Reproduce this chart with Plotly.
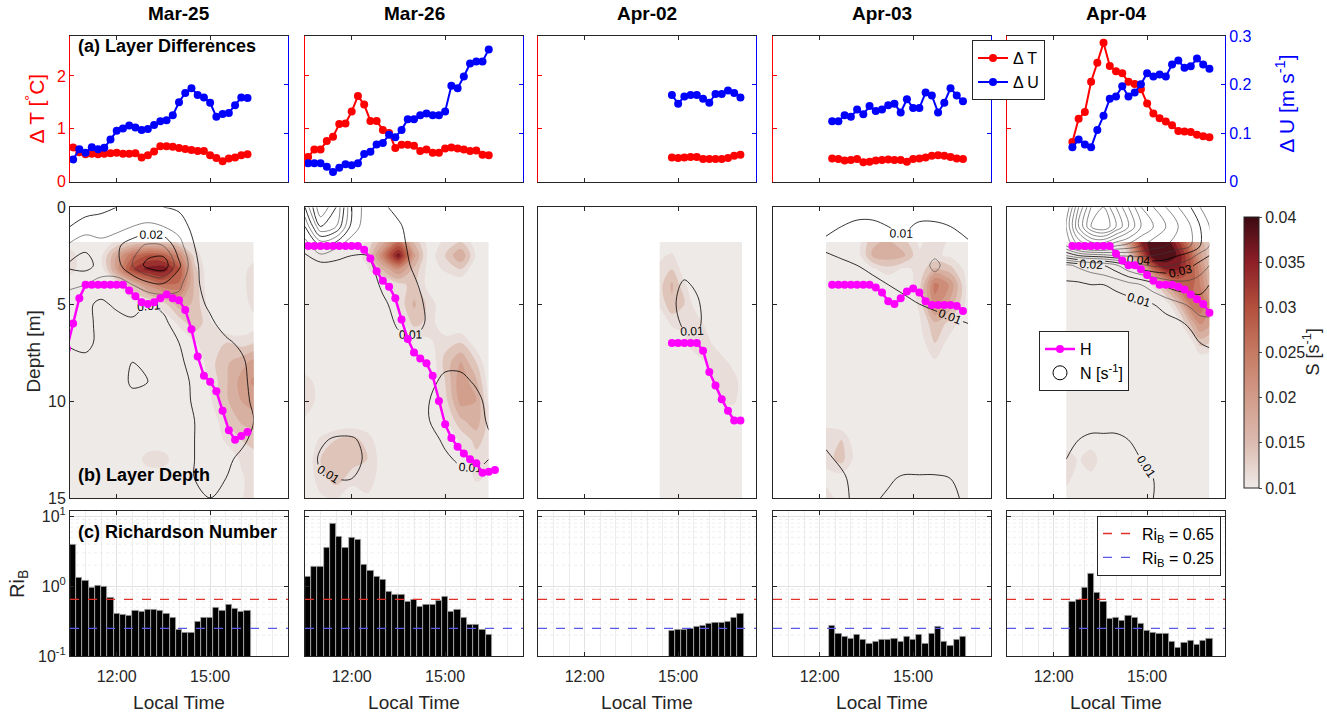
import plotly.graph_objects as go

W, H = 1327, 713
FONT = "Liberation Sans, Arial, Helvetica, sans-serif"
RED = "#ff0000"
BLUE = "#0000ff"
MAG = "#ff00ff"
AX = "#262626"

DAYS = ["Mar-25", "Mar-26", "Apr-02", "Apr-03", "Apr-04"]

# ---------------- sample times (local) ----------------
T1 = ["10:36", "10:48", "11:00", "11:12", "11:24", "11:36", "11:48", "12:00", "12:12", "12:24",
      "12:36", "12:48", "13:00", "13:12", "13:24", "13:36", "13:48", "14:00", "14:12", "14:24",
      "14:36", "14:48", "15:00", "15:12", "15:24", "15:36", "15:48", "16:00", "16:12"]
T2 = ["10:36", "10:48", "11:00", "11:12", "11:24", "11:36", "11:48", "12:00", "12:12", "12:24",
      "12:36", "12:48", "13:00", "13:12", "13:24", "13:36", "13:48", "14:00", "14:12", "14:24",
      "14:36", "14:48", "15:00", "15:12", "15:24", "15:36", "15:48", "16:00", "16:12", "16:24"]
T3 = ["14:48", "15:00", "15:12", "15:24", "15:36", "15:48", "16:00", "16:12", "16:24", "16:36",
      "16:48", "17:00"]
T4 = ["12:24", "12:36", "12:48", "13:00", "13:12", "13:24", "13:36", "13:48", "14:00", "14:12",
      "14:24", "14:36", "14:48", "15:00", "15:12", "15:24", "15:36", "15:48", "16:00", "16:12",
      "16:24", "16:36"]
T5 = ["12:36", "12:48", "13:00", "13:12", "13:24", "13:36", "13:48", "14:00", "14:12", "14:24",
      "14:36", "14:48", "15:00", "15:12", "15:24", "15:36", "15:48", "16:00", "16:12", "16:24",
      "16:36", "16:48", "17:00"]
TH1 = ["10:24"] + T1
TH2 = T2 + ["16:36"]

# ---------------- (a) layer differences ----------------
DT1 = [0.65, 0.56, 0.52, 0.53, 0.52, 0.53, 0.54, 0.55, 0.53, 0.53, 0.54, 0.46, 0.50, 0.57, 0.67,
       0.67, 0.66, 0.64, 0.62, 0.60, 0.58, 0.58, 0.50, 0.45, 0.39, 0.44, 0.46, 0.50, 0.52]
DU1 = [0.046, 0.067, 0.060, 0.071, 0.067, 0.070, 0.087, 0.105, 0.110, 0.116, 0.112, 0.107, 0.109,
       0.117, 0.125, 0.127, 0.137, 0.164, 0.183, 0.193, 0.179, 0.174, 0.163, 0.134, 0.140, 0.142,
       0.158, 0.174, 0.173]
DT2 = [0.47, 0.61, 0.61, 0.77, 0.85, 1.09, 1.10, 1.33, 1.62, 1.46, 1.15, 1.15, 0.98, 0.92, 0.64,
       0.70, 0.70, 0.68, 0.58, 0.61, 0.55, 0.55, 0.63, 0.65, 0.63, 0.61, 0.58, 0.59, 0.51, 0.50]
DU2 = [0.038, 0.038, 0.038, 0.031, 0.020, 0.029, 0.036, 0.034, 0.038, 0.057, 0.062, 0.077, 0.080,
       0.097, 0.092, 0.107, 0.129, 0.129, 0.137, 0.141, 0.137, 0.137, 0.145, 0.198, 0.193, 0.217,
       0.244, 0.248, 0.248, 0.273]
DT3 = [0.46, 0.45, 0.46, 0.47, 0.47, 0.43, 0.43, 0.43, 0.43, 0.45, 0.49, 0.51]
DU3 = [0.179, 0.161, 0.176, 0.179, 0.179, 0.171, 0.163, 0.181, 0.181, 0.188, 0.183, 0.174]
DT4 = [0.44, 0.43, 0.40, 0.41, 0.43, 0.37, 0.38, 0.40, 0.41, 0.42, 0.41, 0.41, 0.38, 0.43, 0.44,
       0.46, 0.49, 0.50, 0.49, 0.47, 0.44, 0.43]
DU4 = [0.125, 0.125, 0.137, 0.134, 0.149, 0.139, 0.156, 0.146, 0.149, 0.158, 0.161, 0.143, 0.170,
       0.152, 0.152, 0.184, 0.178, 0.143, 0.163, 0.193, 0.178, 0.166]
DT5 = [0.75, 1.19, 1.32, 1.89, 2.25, 2.63, 2.19, 2.09, 2.05, 1.89, 1.85, 1.75, 1.48, 1.29, 1.20,
       1.14, 1.07, 0.96, 0.95, 0.94, 0.89, 0.86, 0.84]
DU5 = [0.071, 0.087, 0.077, 0.071, 0.107, 0.136, 0.171, 0.176, 0.197, 0.176, 0.184, 0.201, 0.224,
       0.217, 0.221, 0.217, 0.242, 0.250, 0.235, 0.238, 0.254, 0.242, 0.233]

# ---------------- (b) layer depth H ----------------
H1 = [7.3, 6.0, 4.7, 4.0, 4.0, 4.0, 4.0, 4.0, 4.0, 4.0, 4.3, 4.6, 4.9, 5.0, 4.9, 4.7, 4.5, 4.7,
      4.8, 5.3, 6.3, 7.7, 8.7, 9.0, 9.5, 10.5, 11.5, 12.0, 11.8, 11.6]
H2 = [2.0, 2.0, 2.0, 2.0, 2.0, 2.0, 2.0, 2.0, 2.0, 2.2, 2.65, 3.3, 3.8, 4.1, 4.7, 5.8, 6.8, 7.5,
      7.8, 8.05, 8.7, 10.0, 11.2, 11.9, 12.35, 12.7, 13.0, 13.2, 13.7, 13.65, 13.55]
H3 = [7.0, 7.0, 7.0, 7.0, 7.0, 7.4, 8.5, 9.2, 9.9, 10.5, 11.0, 11.0]
H4 = [4.0, 4.0, 4.0, 4.0, 4.0, 4.0, 4.0, 4.15, 4.4, 4.85, 5.0, 4.7, 4.35, 4.2, 4.4, 4.85, 5.05,
      5.05, 5.05, 5.05, 5.1, 5.35]
H5 = [2.0, 2.0, 2.0, 2.0, 2.0, 2.0, 2.0, 2.4, 2.75, 3.0, 3.0, 3.2, 3.5, 3.8, 4.0, 4.0, 4.0, 4.1,
      4.25, 4.5, 4.75, 5.0, 5.45]

# shear S [s^-1] grids (rows = depth SD, columns = hours ST)
SD = [1.8, 2.5, 3.2, 4.0, 5.0, 6.0, 7.0, 8.0, 9.0, 10.0, 11.0, 12.0, 13.0, 14.0, 15.0]
ST1 = [10.5, 11.0, 11.5, 12.0, 12.5, 13.0, 13.5, 14.0, 14.5, 15.0, 15.5, 16.0, 16.4]
S1 = [
    [0.011, 0.010, 0.011, 0.013, 0.015, 0.016, 0.016, 0.014, 0.012, 0.010, 0.010, 0.010, 0.010],
    [0.014, 0.010, 0.012, 0.020, 0.027, 0.030, 0.029, 0.024, 0.014, 0.010, 0.010, 0.010, 0.011],
    [0.014, 0.010, 0.011, 0.021, 0.032, 0.036, 0.037, 0.030, 0.016, 0.010, 0.010, 0.011, 0.014],
    [0.010, 0.010, 0.010, 0.012, 0.017, 0.023, 0.027, 0.027, 0.017, 0.010, 0.010, 0.011, 0.015],
    [0.010, 0.010, 0.010, 0.010, 0.011, 0.012, 0.014, 0.019, 0.017, 0.011, 0.010, 0.010, 0.014],
    [0.010, 0.010, 0.010, 0.010, 0.010, 0.010, 0.010, 0.013, 0.017, 0.013, 0.010, 0.010, 0.011],
    [0.010, 0.010, 0.010, 0.010, 0.010, 0.010, 0.010, 0.010, 0.012, 0.015, 0.015, 0.014, 0.015],
    [0.010, 0.010, 0.010, 0.010, 0.010, 0.010, 0.010, 0.010, 0.010, 0.014, 0.017, 0.019, 0.021],
    [0.010, 0.010, 0.010, 0.010, 0.010, 0.010, 0.010, 0.010, 0.010, 0.013, 0.017, 0.021, 0.023],
    [0.010, 0.010, 0.010, 0.010, 0.010, 0.010, 0.010, 0.010, 0.010, 0.012, 0.017, 0.020, 0.021],
    [0.010, 0.010, 0.010, 0.010, 0.010, 0.010, 0.010, 0.010, 0.010, 0.010, 0.015, 0.018, 0.019],
    [0.010, 0.010, 0.010, 0.010, 0.010, 0.010, 0.010, 0.010, 0.010, 0.010, 0.013, 0.015, 0.016],
    [0.010, 0.010, 0.010, 0.010, 0.010, 0.014, 0.014, 0.010, 0.010, 0.010, 0.010, 0.013, 0.014],
    [0.010, 0.010, 0.010, 0.010, 0.010, 0.010, 0.010, 0.010, 0.010, 0.010, 0.010, 0.012, 0.014],
    [0.010, 0.010, 0.010, 0.010, 0.010, 0.010, 0.010, 0.010, 0.010, 0.010, 0.010, 0.012, 0.015],
]
ST2 = [10.5, 11.0, 11.5, 12.0, 12.5, 13.0, 13.5, 14.0, 14.5, 15.0, 15.5, 16.0, 16.4]
S2 = [
    [0.010, 0.010, 0.010, 0.010, 0.013, 0.019, 0.027, 0.017, 0.011, 0.013, 0.015, 0.011, 0.010],
    [0.010, 0.010, 0.010, 0.010, 0.014, 0.025, 0.037, 0.021, 0.011, 0.015, 0.020, 0.012, 0.010],
    [0.010, 0.010, 0.010, 0.010, 0.012, 0.018, 0.023, 0.017, 0.011, 0.013, 0.015, 0.010, 0.010],
    [0.010, 0.010, 0.010, 0.010, 0.010, 0.011, 0.014, 0.016, 0.011, 0.010, 0.010, 0.010, 0.010],
    [0.010, 0.010, 0.010, 0.010, 0.010, 0.010, 0.013, 0.018, 0.014, 0.010, 0.010, 0.010, 0.010],
    [0.010, 0.010, 0.010, 0.010, 0.010, 0.010, 0.010, 0.016, 0.014, 0.010, 0.010, 0.010, 0.010],
    [0.010, 0.010, 0.010, 0.010, 0.010, 0.010, 0.010, 0.010, 0.012, 0.014, 0.015, 0.011, 0.010],
    [0.010, 0.010, 0.010, 0.010, 0.010, 0.010, 0.010, 0.010, 0.010, 0.016, 0.020, 0.015, 0.010],
    [0.014, 0.011, 0.010, 0.010, 0.010, 0.010, 0.010, 0.010, 0.010, 0.015, 0.022, 0.018, 0.011],
    [0.015, 0.011, 0.010, 0.010, 0.010, 0.010, 0.010, 0.010, 0.010, 0.014, 0.021, 0.020, 0.012],
    [0.012, 0.010, 0.010, 0.010, 0.010, 0.010, 0.010, 0.010, 0.010, 0.012, 0.017, 0.019, 0.014],
    [0.010, 0.013, 0.015, 0.016, 0.014, 0.010, 0.010, 0.010, 0.010, 0.010, 0.013, 0.016, 0.014],
    [0.010, 0.015, 0.017, 0.016, 0.015, 0.011, 0.010, 0.010, 0.010, 0.010, 0.011, 0.014, 0.013],
    [0.010, 0.014, 0.016, 0.014, 0.014, 0.011, 0.010, 0.010, 0.010, 0.010, 0.010, 0.013, 0.012],
    [0.010, 0.012, 0.013, 0.010, 0.012, 0.010, 0.010, 0.010, 0.010, 0.010, 0.010, 0.010, 0.010],
]
ST3 = [14.4, 14.8, 15.2, 15.6, 16.0, 16.4, 16.8, 17.05]
S3 = [
    [0.010, 0.010, 0.010, 0.010, 0.010, 0.010, 0.010, 0.010],
    [0.012, 0.013, 0.010, 0.010, 0.010, 0.010, 0.010, 0.010],
    [0.013, 0.015, 0.011, 0.010, 0.010, 0.010, 0.010, 0.010],
    [0.014, 0.018, 0.013, 0.010, 0.010, 0.010, 0.010, 0.010],
    [0.013, 0.017, 0.015, 0.011, 0.010, 0.010, 0.010, 0.010],
    [0.010, 0.013, 0.013, 0.014, 0.011, 0.010, 0.010, 0.010],
    [0.010, 0.010, 0.012, 0.015, 0.013, 0.010, 0.010, 0.010],
    [0.010, 0.010, 0.010, 0.011, 0.013, 0.014, 0.011, 0.010],
    [0.010, 0.010, 0.010, 0.010, 0.011, 0.015, 0.014, 0.011],
    [0.010, 0.010, 0.010, 0.010, 0.010, 0.013, 0.013, 0.011],
    [0.010, 0.010, 0.010, 0.010, 0.010, 0.010, 0.010, 0.010],
    [0.010, 0.010, 0.010, 0.010, 0.010, 0.010, 0.010, 0.010],
    [0.010, 0.010, 0.010, 0.010, 0.010, 0.010, 0.010, 0.010],
    [0.010, 0.010, 0.010, 0.010, 0.010, 0.010, 0.010, 0.010],
    [0.010, 0.010, 0.010, 0.010, 0.010, 0.010, 0.010, 0.010],
]
ST4 = [12.2, 12.7, 13.2, 13.7, 14.2, 14.7, 15.2, 15.7, 16.2, 16.77]
S4 = [
    [0.010, 0.010, 0.011, 0.017, 0.018, 0.016, 0.012, 0.014, 0.012, 0.010],
    [0.010, 0.010, 0.011, 0.018, 0.019, 0.018, 0.013, 0.013, 0.012, 0.010],
    [0.010, 0.010, 0.010, 0.012, 0.014, 0.012, 0.013, 0.018, 0.016, 0.011],
    [0.010, 0.010, 0.010, 0.010, 0.010, 0.010, 0.014, 0.026, 0.022, 0.011],
    [0.010, 0.010, 0.010, 0.010, 0.010, 0.010, 0.013, 0.024, 0.019, 0.011],
    [0.010, 0.010, 0.010, 0.010, 0.010, 0.010, 0.012, 0.017, 0.014, 0.010],
    [0.010, 0.010, 0.010, 0.010, 0.010, 0.010, 0.011, 0.015, 0.011, 0.010],
    [0.010, 0.010, 0.010, 0.010, 0.010, 0.010, 0.010, 0.012, 0.010, 0.010],
    [0.010, 0.010, 0.010, 0.010, 0.010, 0.010, 0.010, 0.010, 0.010, 0.010],
    [0.010, 0.010, 0.010, 0.010, 0.010, 0.010, 0.010, 0.010, 0.010, 0.010],
    [0.011, 0.010, 0.010, 0.010, 0.010, 0.010, 0.010, 0.010, 0.010, 0.010],
    [0.015, 0.015, 0.010, 0.010, 0.010, 0.010, 0.010, 0.010, 0.010, 0.010],
    [0.014, 0.016, 0.011, 0.010, 0.010, 0.010, 0.010, 0.010, 0.010, 0.010],
    [0.011, 0.011, 0.010, 0.010, 0.010, 0.010, 0.010, 0.010, 0.010, 0.010],
    [0.015, 0.010, 0.010, 0.010, 0.010, 0.010, 0.010, 0.010, 0.010, 0.010],
]
ST5 = [12.4, 12.8, 13.2, 13.6, 14.0, 14.4, 14.8, 15.2, 15.6, 16.0, 16.4, 16.7, 17.0]
S5 = [
    [0.010, 0.010, 0.010, 0.010, 0.012, 0.021, 0.035, 0.040, 0.040, 0.033, 0.024, 0.019, 0.015],
    [0.010, 0.010, 0.010, 0.010, 0.010, 0.014, 0.029, 0.040, 0.040, 0.037, 0.029, 0.021, 0.016],
    [0.010, 0.010, 0.010, 0.010, 0.010, 0.010, 0.015, 0.028, 0.035, 0.035, 0.030, 0.024, 0.017],
    [0.010, 0.010, 0.010, 0.010, 0.010, 0.010, 0.010, 0.013, 0.020, 0.027, 0.029, 0.025, 0.019],
    [0.010, 0.010, 0.010, 0.010, 0.010, 0.010, 0.010, 0.010, 0.011, 0.017, 0.026, 0.027, 0.023],
    [0.010, 0.010, 0.010, 0.010, 0.010, 0.010, 0.010, 0.010, 0.010, 0.011, 0.018, 0.023, 0.021],
    [0.010, 0.010, 0.010, 0.010, 0.010, 0.010, 0.010, 0.010, 0.010, 0.010, 0.011, 0.016, 0.015],
    [0.010, 0.010, 0.010, 0.010, 0.010, 0.010, 0.010, 0.010, 0.010, 0.010, 0.010, 0.010, 0.010],
    [0.010, 0.010, 0.010, 0.010, 0.010, 0.010, 0.010, 0.010, 0.010, 0.010, 0.010, 0.010, 0.010],
    [0.010, 0.010, 0.010, 0.010, 0.010, 0.010, 0.010, 0.010, 0.010, 0.010, 0.010, 0.010, 0.010],
    [0.010, 0.010, 0.010, 0.010, 0.010, 0.010, 0.010, 0.010, 0.010, 0.010, 0.010, 0.010, 0.010],
    [0.010, 0.010, 0.010, 0.010, 0.010, 0.010, 0.010, 0.010, 0.010, 0.010, 0.010, 0.010, 0.010],
    [0.015, 0.012, 0.015, 0.010, 0.010, 0.010, 0.010, 0.010, 0.010, 0.010, 0.010, 0.010, 0.010],
    [0.014, 0.010, 0.011, 0.010, 0.010, 0.010, 0.010, 0.010, 0.010, 0.010, 0.010, 0.010, 0.010],
    [0.010, 0.010, 0.010, 0.010, 0.010, 0.010, 0.010, 0.010, 0.010, 0.010, 0.010, 0.010, 0.010],
]

# buoyancy frequency N [s^-1] grids (rows = depth ND, columns = hours)
ND = [0, 1, 2, 3, 4, 5, 6, 7, 8, 9, 10, 11, 12, 13, 14, 15]
N1 = [
    [0.006, 0.008, 0.009, 0.010, 0.011, 0.011, 0.010, 0.009, 0.006, 0.005, 0.005, 0.005, 0.005],
    [0.010, 0.012, 0.012, 0.013, 0.015, 0.016, 0.015, 0.013, 0.008, 0.005, 0.005, 0.005, 0.005],
    [0.016, 0.019, 0.017, 0.019, 0.023, 0.026, 0.025, 0.017, 0.010, 0.006, 0.005, 0.005, 0.005],
    [0.021, 0.022, 0.018, 0.018, 0.025, 0.032, 0.034, 0.021, 0.011, 0.007, 0.005, 0.005, 0.005],
    [0.016, 0.015, 0.013, 0.013, 0.015, 0.018, 0.019, 0.016, 0.011, 0.008, 0.006, 0.005, 0.005],
    [0.012, 0.011, 0.009, 0.011, 0.012, 0.010, 0.011, 0.013, 0.012, 0.009, 0.007, 0.006, 0.005],
    [0.013, 0.011, 0.009, 0.008, 0.009, 0.008, 0.009, 0.012, 0.013, 0.011, 0.008, 0.007, 0.006],
    [0.011, 0.012, 0.008, 0.007, 0.008, 0.008, 0.008, 0.010, 0.013, 0.012, 0.011, 0.009, 0.007],
    [0.007, 0.008, 0.007, 0.007, 0.010, 0.010, 0.007, 0.009, 0.012, 0.013, 0.012, 0.011, 0.008],
    [0.006, 0.006, 0.006, 0.007, 0.011, 0.010, 0.007, 0.008, 0.011, 0.013, 0.013, 0.012, 0.008],
    [0.005, 0.005, 0.006, 0.006, 0.008, 0.008, 0.006, 0.007, 0.011, 0.012, 0.013, 0.012, 0.009],
    [0.005, 0.005, 0.005, 0.006, 0.006, 0.006, 0.006, 0.007, 0.010, 0.012, 0.012, 0.012, 0.010],
    [0.005, 0.005, 0.005, 0.005, 0.006, 0.006, 0.006, 0.007, 0.010, 0.011, 0.012, 0.011, 0.009],
    [0.005, 0.005, 0.005, 0.005, 0.005, 0.006, 0.006, 0.007, 0.010, 0.011, 0.011, 0.009, 0.008],
    [0.005, 0.005, 0.005, 0.005, 0.005, 0.005, 0.006, 0.008, 0.010, 0.011, 0.010, 0.008, 0.007],
    [0.005, 0.005, 0.005, 0.005, 0.005, 0.005, 0.006, 0.008, 0.010, 0.010, 0.009, 0.007, 0.006],
]
N2 = [
    [0.030, 0.050, 0.040, 0.020, 0.012, 0.011, 0.008, 0.006, 0.005, 0.005, 0.005, 0.005, 0.005],
    [0.020, 0.040, 0.035, 0.018, 0.012, 0.012, 0.011, 0.007, 0.005, 0.005, 0.005, 0.005, 0.005],
    [0.012, 0.020, 0.016, 0.012, 0.011, 0.013, 0.012, 0.008, 0.005, 0.005, 0.005, 0.005, 0.005],
    [0.007, 0.008, 0.008, 0.008, 0.009, 0.012, 0.013, 0.009, 0.006, 0.005, 0.005, 0.005, 0.005],
    [0.005, 0.005, 0.006, 0.006, 0.007, 0.011, 0.013, 0.011, 0.007, 0.005, 0.005, 0.005, 0.005],
    [0.005, 0.005, 0.005, 0.005, 0.006, 0.009, 0.012, 0.013, 0.008, 0.005, 0.005, 0.005, 0.005],
    [0.005, 0.005, 0.005, 0.005, 0.005, 0.007, 0.011, 0.012, 0.009, 0.006, 0.005, 0.005, 0.005],
    [0.005, 0.005, 0.005, 0.005, 0.005, 0.005, 0.008, 0.009, 0.008, 0.007, 0.006, 0.005, 0.005],
    [0.005, 0.005, 0.005, 0.005, 0.005, 0.005, 0.006, 0.007, 0.008, 0.009, 0.008, 0.006, 0.005],
    [0.005, 0.005, 0.005, 0.005, 0.005, 0.005, 0.005, 0.006, 0.009, 0.011, 0.012, 0.009, 0.006],
    [0.005, 0.005, 0.005, 0.005, 0.005, 0.005, 0.005, 0.005, 0.010, 0.012, 0.013, 0.012, 0.008],
    [0.005, 0.005, 0.005, 0.005, 0.005, 0.005, 0.005, 0.005, 0.010, 0.012, 0.013, 0.013, 0.009],
    [0.006, 0.009, 0.011, 0.011, 0.008, 0.005, 0.005, 0.005, 0.008, 0.011, 0.012, 0.012, 0.011],
    [0.006, 0.011, 0.012, 0.012, 0.009, 0.005, 0.005, 0.005, 0.006, 0.009, 0.011, 0.011, 0.010],
    [0.005, 0.009, 0.010, 0.010, 0.008, 0.005, 0.005, 0.005, 0.005, 0.006, 0.008, 0.009, 0.008],
    [0.005, 0.006, 0.006, 0.006, 0.006, 0.005, 0.005, 0.005, 0.005, 0.005, 0.005, 0.006, 0.006],
]
N3 = [
    [0.005, 0.005, 0.005, 0.005, 0.005, 0.005, 0.005, 0.005],
    [0.005, 0.005, 0.005, 0.005, 0.005, 0.005, 0.005, 0.005],
    [0.005, 0.005, 0.005, 0.005, 0.005, 0.005, 0.005, 0.005],
    [0.005, 0.006, 0.007, 0.006, 0.005, 0.005, 0.005, 0.005],
    [0.006, 0.008, 0.011, 0.009, 0.006, 0.005, 0.005, 0.005],
    [0.006, 0.009, 0.012, 0.011, 0.007, 0.005, 0.005, 0.005],
    [0.005, 0.008, 0.011, 0.011, 0.008, 0.005, 0.005, 0.005],
    [0.005, 0.006, 0.008, 0.009, 0.007, 0.005, 0.005, 0.005],
    [0.005, 0.005, 0.005, 0.005, 0.005, 0.005, 0.005, 0.005],
    [0.005, 0.005, 0.005, 0.005, 0.005, 0.005, 0.005, 0.005],
    [0.005, 0.005, 0.005, 0.005, 0.005, 0.005, 0.005, 0.005],
    [0.005, 0.005, 0.005, 0.005, 0.005, 0.005, 0.005, 0.005],
    [0.005, 0.005, 0.005, 0.005, 0.005, 0.005, 0.005, 0.005],
    [0.005, 0.005, 0.005, 0.005, 0.005, 0.005, 0.005, 0.005],
    [0.005, 0.005, 0.005, 0.005, 0.005, 0.005, 0.005, 0.005],
    [0.005, 0.005, 0.005, 0.005, 0.005, 0.005, 0.005, 0.005],
]
N4 = [
    [0.006, 0.007, 0.008, 0.008, 0.007, 0.007, 0.007, 0.007, 0.006, 0.006],
    [0.009, 0.010, 0.011, 0.011, 0.010, 0.009, 0.011, 0.011, 0.010, 0.008],
    [0.011, 0.012, 0.012, 0.012, 0.011, 0.011, 0.012, 0.013, 0.012, 0.011],
    [0.008, 0.009, 0.010, 0.011, 0.011, 0.012, 0.013, 0.016, 0.013, 0.012],
    [0.006, 0.007, 0.008, 0.009, 0.010, 0.011, 0.012, 0.013, 0.013, 0.012],
    [0.005, 0.006, 0.006, 0.007, 0.008, 0.009, 0.010, 0.011, 0.012, 0.011],
    [0.005, 0.005, 0.005, 0.005, 0.006, 0.006, 0.007, 0.008, 0.009, 0.010],
    [0.005, 0.005, 0.005, 0.005, 0.005, 0.005, 0.005, 0.006, 0.007, 0.008],
    [0.005, 0.005, 0.005, 0.005, 0.005, 0.005, 0.005, 0.005, 0.005, 0.006],
    [0.005, 0.005, 0.005, 0.005, 0.005, 0.005, 0.005, 0.005, 0.005, 0.005],
    [0.005, 0.005, 0.005, 0.005, 0.005, 0.005, 0.005, 0.005, 0.005, 0.005],
    [0.005, 0.005, 0.005, 0.005, 0.005, 0.005, 0.005, 0.005, 0.005, 0.005],
    [0.009, 0.007, 0.006, 0.005, 0.005, 0.005, 0.005, 0.005, 0.005, 0.005],
    [0.011, 0.009, 0.007, 0.006, 0.006, 0.006, 0.006, 0.006, 0.006, 0.005],
    [0.012, 0.011, 0.008, 0.008, 0.009, 0.011, 0.011, 0.011, 0.010, 0.008],
    [0.012, 0.011, 0.009, 0.009, 0.011, 0.012, 0.012, 0.012, 0.011, 0.009],
]
ND5 = [0, 1, 2, 2.5, 3, 4, 5, 6, 7, 8, 9, 10, 11, 12, 13, 14, 15]
N5 = [
    [0.050, 0.070, 0.085, 0.090, 0.080, 0.070, 0.060, 0.055, 0.050, 0.045, 0.040, 0.035, 0.030],
    [0.055, 0.075, 0.090, 0.095, 0.085, 0.075, 0.065, 0.060, 0.055, 0.050, 0.045, 0.040, 0.035],
    [0.050, 0.060, 0.065, 0.065, 0.060, 0.058, 0.055, 0.052, 0.050, 0.048, 0.045, 0.040, 0.035],
    [0.035, 0.040, 0.042, 0.043, 0.045, 0.046, 0.046, 0.045, 0.043, 0.040, 0.037, 0.033, 0.030],
    [0.014, 0.016, 0.018, 0.020, 0.024, 0.030, 0.034, 0.036, 0.036, 0.034, 0.031, 0.028, 0.025],
    [0.009, 0.009, 0.010, 0.010, 0.011, 0.013, 0.015, 0.018, 0.021, 0.023, 0.023, 0.022, 0.020],
    [0.007, 0.007, 0.007, 0.007, 0.008, 0.008, 0.009, 0.010, 0.012, 0.014, 0.016, 0.018, 0.017],
    [0.006, 0.006, 0.006, 0.006, 0.006, 0.006, 0.007, 0.007, 0.008, 0.009, 0.011, 0.013, 0.014],
    [0.005, 0.005, 0.005, 0.005, 0.005, 0.005, 0.005, 0.006, 0.006, 0.007, 0.008, 0.010, 0.011],
    [0.005, 0.005, 0.005, 0.005, 0.005, 0.005, 0.005, 0.005, 0.005, 0.005, 0.006, 0.006, 0.007],
    [0.005, 0.005, 0.005, 0.005, 0.005, 0.005, 0.005, 0.005, 0.005, 0.005, 0.005, 0.005, 0.005],
    [0.005, 0.005, 0.005, 0.005, 0.005, 0.005, 0.005, 0.005, 0.005, 0.005, 0.005, 0.005, 0.005],
    [0.006, 0.007, 0.008, 0.008, 0.008, 0.007, 0.006, 0.005, 0.005, 0.005, 0.005, 0.005, 0.005],
    [0.008, 0.010, 0.011, 0.011, 0.011, 0.010, 0.008, 0.006, 0.005, 0.005, 0.005, 0.005, 0.005],
    [0.010, 0.012, 0.012, 0.013, 0.012, 0.011, 0.010, 0.008, 0.006, 0.005, 0.005, 0.005, 0.005],
    [0.012, 0.011, 0.012, 0.013, 0.013, 0.012, 0.011, 0.010, 0.008, 0.006, 0.005, 0.005, 0.005],
    [0.011, 0.010, 0.011, 0.013, 0.013, 0.012, 0.011, 0.010, 0.009, 0.007, 0.005, 0.005, 0.005],
]

# ---------------- (c) bulk Richardson number ----------------
RI1 = [3.87, 1.32, 1.20, 0.94, 1.02, 1.00, 0.68, 0.41, 0.39, 0.38, 0.44, 0.43, 0.46, 0.46, 0.44,
       0.41, 0.35, 0.24, 0.22, 0.22, 0.31, 0.36, 0.36, 0.50, 0.45, 0.54, 0.48, 0.43, 0.44]
RI2 = [1.39, 1.88, 1.88, 3.55, 7.9, 5.1, 3.55, 5.0, 4.6, 2.04, 1.68, 1.36, 1.22, 0.84, 0.76,
       0.76, 0.60, 0.65, 0.51, 0.54, 0.54, 0.63, 0.70, 0.43, 0.46, 0.36, 0.28, 0.28, 0.24, 0.20]
RI3 = [0.23, 0.24, 0.24, 0.25, 0.26, 0.27, 0.29, 0.30, 0.30, 0.31, 0.35, 0.40]
RI4 = [0.27, 0.21, 0.19, 0.18, 0.20, 0.17, 0.15, 0.16, 0.17, 0.17, 0.18, 0.16, 0.19, 0.17, 0.20,
       0.15, 0.21, 0.26, 0.16, 0.14, 0.17, 0.19]
RI5 = [0.60, 0.65, 0.94, 1.50, 0.82, 0.60, 0.34, 0.35, 0.32, 0.38, 0.35, 0.29, 0.23, 0.22, 0.21,
       0.21, 0.16, 0.13, 0.155, 0.165, 0.144, 0.165, 0.18]
RI_CRIT = [0.65, 0.25]
RI_CRIT_COLORS = ["#e0322a", "#5a5ae6"]

XRANGE = [10.5, 17.5]
XTICKS = [12, 15]
XTICKTEXT = ["12:00", "15:00"]
CB_TICKS = [0.01, 0.015, 0.02, 0.025, 0.03, 0.035, 0.04]
CB_TEXT = ["0.01", "0.015", "0.02", "0.025", "0.03", "0.035", "0.04"]

AMP = [[0.0, "#eeeae8"], [0.167, "#dcbbb0"], [0.333, "#d29c8a"], [0.5, "#c67a63"],
       [0.667, "#b2503d"], [0.833, "#8e1f27"], [1.0, "#3c0a12"]]


def hrs(lst):
    return [int(s[:2]) + int(s[3:]) / 60.0 for s in lst]


DAYDATA = [
    dict(t=T1, dt=DT1, du=DU1, th=TH1, h=H1, st=ST1, s=S1, nd=ND, n=N1, ri=RI1),
    dict(t=T2, dt=DT2, du=DU2, th=TH2, h=H2, st=ST2, s=S2, nd=ND, n=N2, ri=RI2),
    dict(t=T3, dt=DT3, du=DU3, th=T3, h=H3, st=ST3, s=S3, nd=ND, n=N3, ri=RI3),
    dict(t=T4, dt=DT4, du=DU4, th=T4, h=H4, st=ST4, s=S4, nd=ND, n=N4, ri=RI4),
    dict(t=T5, dt=DT5, du=DU5, th=T5, h=H5, st=ST5, s=S5, nd=ND5, n=N5, ri=RI5),
]

COL_L = [70, 305, 538, 773, 1007]
COL_W = 218
ROW_TOP = (29, 178)
ROW_MID = (204, 502)
ROW_BOT = (515, 664)
TICK_SIZE = 16


def px(p):
    return p / W


def py(p):
    return 1 - p / H


def an(kind, n):
    return kind + ("" if n == 1 else str(n))


def ax(kind, n):
    return kind + "axis" + ("" if n == 1 else str(n))


fig = go.Figure()
layout = {}
shapes = []
annotations = []

base_ax = dict(showline=True, linecolor=AX, linewidth=1, ticks="inside", ticklen=4,
               tickcolor=AX, zeroline=False, showgrid=False,
               tickfont=dict(family=FONT, size=TICK_SIZE, color=AX))

for i, d in enumerate(DAYDATA):
    xd = [px(COL_L[i]), px(COL_L[i] + COL_W)]
    t = hrs(d["t"])
    xt, yl, yr = i + 1, i + 1, i + 6
    xm, ym = i + 6, i + 11
    xb, yb = i + 11, i + 16

    # ---- top row axes
    layout[ax("x", xt)] = dict(base_ax, domain=xd, anchor=an("y", yl), range=XRANGE,
                               tickvals=XTICKS, showticklabels=False, mirror="ticks")
    layout[ax("y", yl)] = dict(base_ax, domain=[py(ROW_TOP[1]), py(ROW_TOP[0])],
                               anchor=an("x", xt), range=[0, 2.75], tickvals=[0, 1, 2],
                               linecolor=RED, tickcolor=RED, showticklabels=(i == 0),
                               tickfont=dict(family=FONT, size=TICK_SIZE, color=RED))
    layout[ax("y", yr)] = dict(base_ax, overlaying=an("y", yl), side="right",
                               anchor=an("x", xt), range=[0, 0.3],
                               tickvals=[0, 0.1, 0.2, 0.3], linecolor=BLUE, tickcolor=BLUE,
                               showticklabels=(i == 4),
                               tickfont=dict(family=FONT, size=TICK_SIZE, color=BLUE))
    fig.add_trace(go.Scatter(x=t, y=d["dt"], mode="lines+markers", name="Δ T",
                             line=dict(color=RED, width=2), marker=dict(size=8, color=RED),
                             xaxis=an("x", xt), yaxis=an("y", yl), legend="legend",
                             showlegend=(i == 4), hoverinfo="skip"))
    fig.add_trace(go.Scatter(x=t, y=d["du"], mode="lines+markers", name="Δ U",
                             line=dict(color=BLUE, width=2), marker=dict(size=8, color=BLUE),
                             xaxis=an("x", xt), yaxis=an("y", yr), legend="legend",
                             showlegend=(i == 4), hoverinfo="skip"))

    # ---- middle row
    layout[ax("x", xm)] = dict(base_ax, domain=xd, anchor=an("y", ym), range=XRANGE,
                               tickvals=XTICKS, showticklabels=False, mirror="ticks")
    layout[ax("y", ym)] = dict(base_ax, domain=[py(ROW_MID[1]), py(ROW_MID[0])],
                               anchor=an("x", xm), range=[15, 0], tickvals=[0, 5, 10, 15],
                               showticklabels=(i == 0), mirror="ticks")
    fig.add_trace(go.Contour(x=d["st"], y=SD, z=d["s"], colorscale=AMP, zmin=0.01, zmax=0.04,
                             zauto=False, autocontour=False,
                             contours=dict(start=0.0125, end=0.04, size=0.0025,
                                           coloring="fill", showlines=False),
                             line=dict(width=0, smoothing=1.0), showscale=False,
                             xaxis=an("x", xm), yaxis=an("y", ym), hoverinfo="skip"))
    nt = d["st"]
    for (st, en, sz, lab, wd, colr) in [(0.01, 0.04, 0.01, True, 0.8, "#000000"),
                                        (0.015, 0.145, 0.01, False, 0.6, "#3a3a3a"),
                                        (0.05, 0.14, 0.01, False, 0.6, "#3a3a3a")]:
        fig.add_trace(go.Contour(x=nt, y=d["nd"], z=d["n"], autocontour=False,
                                 contours=dict(start=st, end=en, size=sz, coloring="lines",
                                               showlabels=lab, labelformat=".2f",
                                               labelfont=dict(family=FONT, size=12,
                                                              color="black")),
                                 colorscale=[[0, colr], [1, colr]],
                                 line=dict(width=wd, smoothing=1.0), showscale=False,
                                 xaxis=an("x", xm), yaxis=an("y", ym), hoverinfo="skip"))
    fig.add_trace(go.Scatter(x=hrs(d["th"]), y=d["h"], mode="lines+markers", name="H",
                             line=dict(color=MAG, width=2.5), marker=dict(size=8, color=MAG),
                             xaxis=an("x", xm), yaxis=an("y", ym), legend="legend2",
                             showlegend=(i == 4), cliponaxis=True, hoverinfo="skip"))

    # ---- bottom row
    layout[ax("x", xb)] = dict(base_ax, domain=xd, anchor=an("y", yb), range=XRANGE,
                               tickvals=XTICKS, ticktext=XTICKTEXT, mirror="ticks",
                               showgrid=True, gridcolor="#e2e2e2", gridwidth=1,
                               ticklabelstandoff=6,
                               minor=dict(dtick=0.5, tick0=10.5, showgrid=True,
                                          gridcolor="#ececec", gridwidth=1, ticks=""),
                               title=dict(text="Local Time",
                                          font=dict(family=FONT, size=19, color=AX),
                                          standoff=11))
    layout[ax("y", yb)] = dict(base_ax, domain=[py(ROW_BOT[1]), py(ROW_BOT[0])],
                               anchor=an("x", xb), type="log", range=[-1, 1.08],
                               tickvals=[0.1, 1, 10],
                               ticktext=["10<sup>-1</sup>", "10<sup>0</sup>", "10<sup>1</sup>"],
                               showticklabels=(i == 0), mirror="ticks", showgrid=True,
                               gridcolor="#e2e2e2")
    for v in [0.2, 0.3, 0.4, 0.5, 0.6, 0.7, 0.8, 0.9, 2, 3, 4, 5, 6, 7, 8, 9]:
        shapes.append(dict(type="line", xref=an("x", xb) + " domain", yref=an("y", yb),
                           x0=0, x1=1, y0=v, y1=v, layer="below",
                           line=dict(color="#eeeeee", width=1, dash="dot")))
    fig.add_trace(go.Bar(x=t, y=d["ri"], width=0.2,
                         marker=dict(color="black", line=dict(color="#bdbdbd", width=0.7)),
                         xaxis=an("x", xb), yaxis=an("y", yb), showlegend=False,
                         hoverinfo="skip"))
    for v, c in zip(RI_CRIT, RI_CRIT_COLORS):
        fig.add_trace(go.Scatter(x=XRANGE, y=[v, v], mode="lines",
                                 name="Ri<sub>B</sub> = %.2f" % v,
                                 line=dict(color=c, width=1.3, dash="dash"),
                                 xaxis=an("x", xb), yaxis=an("y", yb), legend="legend3",
                                 showlegend=(i == 4), hoverinfo="skip"))

    annotations.append(dict(text="<b>%s</b>" % DAYS[i], x=px(COL_L[i] + COL_W / 2),
                            y=py(6), font=dict(family=FONT, size=19, color="black")))

# legend dummy for N contours and a continuous colorbar
fig.add_trace(go.Scatter(x=[None], y=[None], mode="markers", name="N [s<sup>-1</sup>]",
                         marker=dict(symbol="circle-open", size=14, color="black",
                                     line=dict(width=1, color="black")),
                         xaxis="x10", yaxis="y15", legend="legend2", showlegend=True))
fig.add_trace(go.Scatter(x=[None], y=[None], mode="markers", showlegend=False,
                         marker=dict(color=[0.01], colorscale=AMP, cmin=0.01, cmax=0.04,
                                     showscale=True, size=1,
                                     colorbar=dict(x=px(1234), xanchor="left",
                                                   y=py(ROW_MID[1]), yanchor="bottom",
                                                   len=(ROW_MID[1] - ROW_MID[0]) / H,
                                                   lenmode="fraction", thickness=15,
                                                   tickvals=CB_TICKS, ticktext=CB_TEXT,
                                                   ticks="outside", ticklen=3,
                                                   outlinewidth=1, outlinecolor=AX,
                                                   tickfont=dict(family=FONT, size=TICK_SIZE,
                                                                 color=AX))),
                         xaxis="x10", yaxis="y15"))

# text labels
PANEL_FONT = dict(family=FONT, size=18, color="black")
annotations += [
    dict(text="<b>(a) Layer Differences</b>", x=px(76), y=py(39), xanchor="left",
         font=PANEL_FONT),
    dict(text="<b>(b) Layer Depth</b>", x=px(76), y=py(478), xanchor="left", font=PANEL_FONT),
    dict(text="<b>(c) Richardson Number</b>", x=px(76), y=py(537), xanchor="left",
         font=PANEL_FONT),
    dict(text="Δ T [<sup>°</sup>C]", x=px(35), y=py(103), textangle=-90,
         font=dict(family=FONT, size=21, color=RED)),
    dict(text="Δ U [m s<sup>-1</sup>]", x=px(1285), y=py(98), textangle=-90,
         font=dict(family=FONT, size=21, color=BLUE)),
    dict(text="Depth [m]", x=px(34), y=py(352), textangle=-90,
         font=dict(family=FONT, size=19, color=AX)),
    dict(text="Ri<sub>B</sub>", x=px(19), y=py(590), textangle=-90,
         font=dict(family=FONT, size=20, color=AX)),
    dict(text="S [s<sup>-1</sup>]", x=px(1312), y=py(353), textangle=-90,
         font=dict(family=FONT, size=18, color=AX)),
]
for a in annotations:
    a.setdefault("xref", "paper")
    a.setdefault("yref", "paper")
    a.setdefault("xanchor", "center")
    a.setdefault("yanchor", "middle")
    a.setdefault("showarrow", False)
    a.setdefault("font", dict(family=FONT, size=17, color="black"))

leg_common = dict(bgcolor="white", bordercolor=AX, borderwidth=1, xanchor="left",
                  yanchor="top", font=dict(family=FONT, size=16, color="black"),
                  tracegroupgap=0, itemwidth=30)
layout["legend"] = dict(leg_common, x=px(972), y=py(33))
layout["legend2"] = dict(leg_common, x=px(1039), y=py(331))
layout["legend3"] = dict(leg_common, x=px(1097), y=py(520), itemwidth=34)

fig.update_layout(
    width=W, height=H, margin=dict(l=0, r=0, t=0, b=0),
    paper_bgcolor="white", plot_bgcolor="white",
    font=dict(family=FONT, size=TICK_SIZE, color=AX),
    bargap=0, barmode="overlay",
    shapes=shapes, annotations=annotations,
    **layout,
)

fig.write_html("out.html")
